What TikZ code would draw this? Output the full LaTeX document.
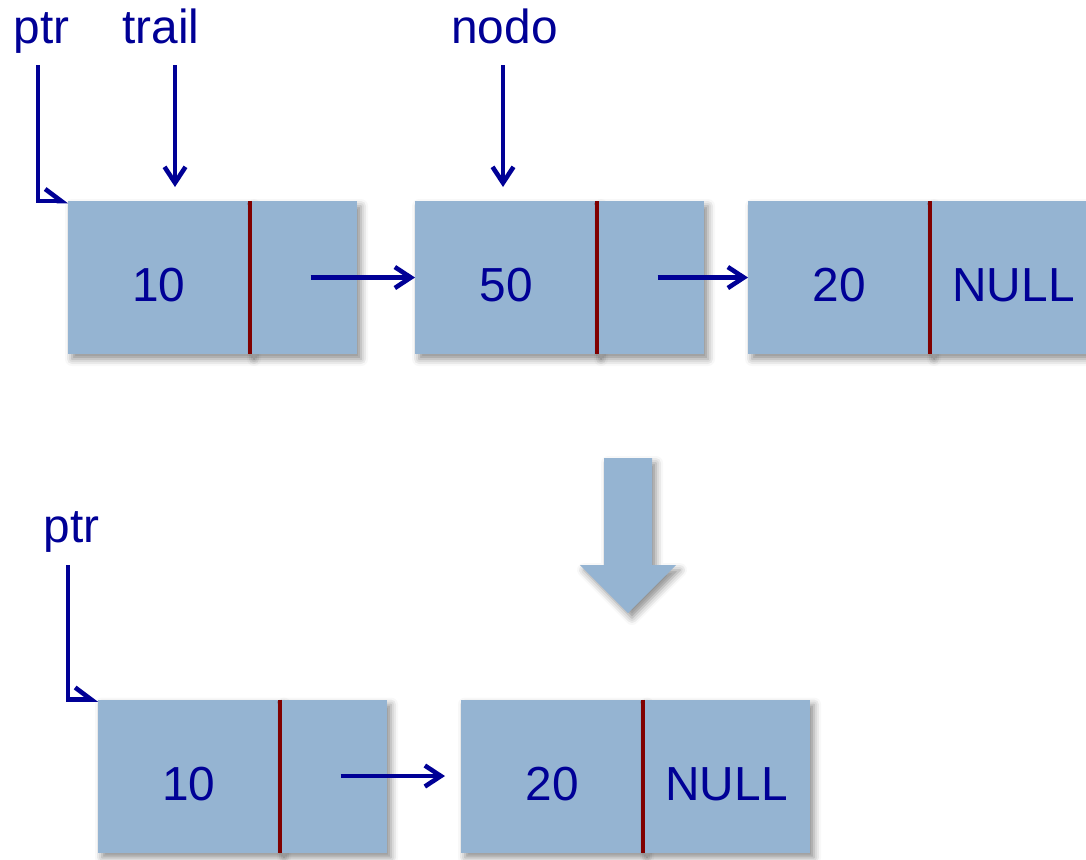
\documentclass[tikz,border=0pt]{standalone}
\usepackage{fontspec}
\setmainfont{Liberation Sans}
\usetikzlibrary{arrows.meta,shadows.blur,positioning}

\definecolor{cellfill}{RGB}{149,180,210}
\definecolor{ink}{RGB}{0,0,150}
\definecolor{splitred}{RGB}{128,0,0}

\begin{document}
\begin{tikzpicture}[
    font=\fontsize{13.6}{16}\selectfont, text=ink,
    soft/.style={blur shadow={shadow xshift=0.4mm, shadow yshift=-0.5mm,
        shadow blur radius=0.7mm, shadow opacity=45}},
    cell/.style={fill=cellfill, soft, minimum height=1.53cm, inner sep=0pt,
        outer sep=0pt, text height=13.9pt, text depth=0pt},
    data/.style={cell, minimum width=1.82cm},
    link/.style={cell, minimum width=1.07cm},
    last/.style={cell, minimum width=1.67cm},
    divider/.style={splitred, line width=1.2pt},
    ptrarrow/.style={ink, line width=1.3pt, -{Straight Barb[length=1.6mm,width=2.1mm]}},
    ptrcorner/.style={ink, line width=1.3pt, -{Straight Barb[harpoon,length=1.6mm,width=2.4mm]}}
]
    \useasboundingbox (0,0) rectangle (10.86,-8.59);
    % ---- lista antes ----
    \node[data] (d1) at (1.59,-2.775) {10};
    \node[link, right=0pt of d1] (p1) {};
    \node[data] (d2) at (5.06,-2.775) {50};
    \node[link, right=0pt of d2] (p2) {};
    \node[data] (d3) at (8.39,-2.775) {20};
    \node[last, right=0pt of d3] (p3) {NULL};
    \foreach \n in {d1,d2,d3}
        \draw[divider] (\n.north east) -- (\n.south east);
    \draw[ptrarrow] ([xshift=0.07cm]p1.center) -- (d2.west);
    \draw[ptrarrow] ([xshift=0.07cm]p2.center) -- (d3.west);
    % ---- punteros ----
    \node[anchor=base] (ptr) at (0.415,-0.43) {ptr};
    \node[anchor=base] (trail) at (1.61,-0.43) {trail};
    \node[anchor=base] (nodo) at (5.045,-0.43) {nodo};
    \coordinate (ptrtail) at (0.38,-0.65);
    \coordinate (trailtail) at (1.75,-0.65);
    \coordinate (nodotail) at (5.03,-0.65);
    \draw[ptrcorner] (ptrtail) |- (d1.north west);
    \draw[ptrarrow, shorten >=0.14cm] (trailtail) -- (trailtail |- d1.north);
    \draw[ptrarrow, shorten >=0.14cm] (nodotail) -- (nodotail |- d2.north);
    % ---- flecha grande ----
    \fill[cellfill, soft] (6.04,-4.58) -- (6.52,-4.58) -- (6.52,-5.65) -- (6.76,-5.65)
        -- (6.28,-6.13) -- (5.80,-5.65) -- (6.04,-5.65) -- cycle;
    % ---- lista despues ----
    \node[data] (e1) at (1.89,-7.76) {10};
    \node[link, right=0pt of e1] (q1) {};
    \node[data] (e2) at (5.52,-7.76) {20};
    \node[last, right=0pt of e2] (q2) {NULL};
    \foreach \n in {e1,e2}
        \draw[divider] (\n.north east) -- (\n.south east);
    \draw[ptrarrow, shorten >=0.16cm] ([xshift=0.07cm]q1.center) -- (e2.west);
    \node[anchor=base] (ptrb) at (0.715,-5.42) {ptr};
    \coordinate (ptrbtail) at (0.68,-5.65);
    \draw[ptrcorner] (ptrbtail) |- (e1.north west);
\end{tikzpicture}
\end{document}
